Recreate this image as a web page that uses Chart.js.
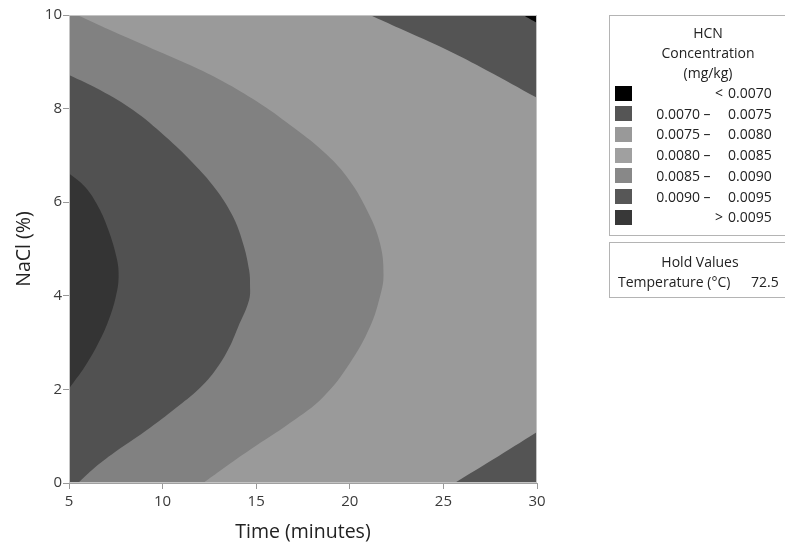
<!DOCTYPE html>
<html>
<head>
<meta charset="utf-8">
<script src="https://cdn.jsdelivr.net/npm/chart.js@4.4.1/dist/chart.umd.min.js"></script>
<style>
  body { margin: 0; background: #fff; font-family: "Open Sans", sans-serif; }
  #wrap { position: relative; width: 785px; height: 547px; overflow: hidden; }
  .box { position: absolute; border: 1px solid #b4b4b4; box-sizing: border-box; }
  .t { position: absolute; font-size: 14px; line-height: 18px; color: #222; white-space: nowrap; }
  .sw { position: absolute; width: 17px; height: 15px; }
</style>
</head>
<body>
<div id="wrap">
  <canvas id="chart"></canvas>
  <div id="legend"></div>
</div>
<script>
// axis ticks
const timeTicks = [5, 10, 15, 20, 25, 30];
const naclTicks = [0, 2, 4, 6, 8, 10];

// contour boundaries, [time, NaCl]
const curve95 = [[5, 6.62], [5.85, 6.33], [6.57, 5.9], [7.1, 5.41], [7.55, 4.8], [7.65, 4.4],
  [7.5, 3.98], [7.1, 3.46], [6.57, 2.99], [5.85, 2.49], [5, 2.02]];
const curve90 = [[5, 8.72], [6.66, 8.4], [8.42, 7.97], [10.13, 7.41], [11.62, 6.84], [12.8, 6.3],
  [13.71, 5.73], [14.29, 5.13], [14.62, 4.55], [14.67, 4.23], [14.62, 3.91], [14.03, 3.33],
  [13.49, 2.84], [12.75, 2.37], [11.89, 1.99], [10.93, 1.67], [9.33, 1.18], [7.46, 0.66],
  [6.23, 0.28], [5.48, 0]];
const curve85 = [[5.43, 10], [7.19, 9.68], [9.86, 9.21], [11.46, 8.93], [13.23, 8.58], [15.04, 8.15],
  [16.81, 7.65], [18.57, 7.09], [19.85, 6.54], [20.92, 5.83], [21.61, 5.13], [21.8, 4.44],
  [21.61, 3.98], [21.08, 3.34], [20.0, 2.56], [18.58, 1.84], [16.8, 1.28], [14.67, 0.71],
  [13.2, 0.3], [12.17, 0]];
const curve75Top = [[21.08, 10], [22.68, 9.71], [25.2, 9.25], [27.3, 8.82], [30, 8.23]];
const curve70Top = [[29.25, 10], [30, 9.83]];
const curve75Bottom = [[25.6, 0], [27.6, 0.49], [30, 1.09]];

// plot corners that close each filled band
const close90 = [[5, 0]];
const close85 = [[5, 0], [5, 10]];
const closeTopRight = [[30, 10]];
const closeBottomRight = [[30, 0]];

// legend
const legendFrom = ['', '0.0070', '0.0075', '0.0080', '0.0085', '0.0090', ''];
const legendSign = ['<', '–', '–', '–', '–', '–', '>'];
const legendTo = ['0.0070', '0.0075', '0.0080', '0.0085', '0.0090', '0.0095', '0.0095'];
const legendColors = ['#000000', '#555555', '#999999', '#a0a0a0', '#888888', '#575757', '#383838'];

const plotBg = '#9a9a9a';

// closed band outline; ends repeated so the spline meets the frame with a corner
function band(curve, corners) {
  corners = corners || [];
  const sharp = [curve[0], curve[curve.length - 1]].concat(corners);
  const res = [];
  curve.concat(corners).forEach(p => {
    res.push({ x: p[0], y: p[1] });
    if (sharp.includes(p)) res.push({ x: p[0], y: p[1] });
  });
  return res;
}
const region = (data, color, order) => ({
  data: data,
  backgroundColor: color,
  borderWidth: 0,
  pointRadius: 0,
  fill: 'shape',
  tension: 0.4,
  order: order
});

const areaPlugin = {
  id: 'area',
  beforeDatasetsDraw(chart) {
    const a = chart.chartArea, ctx = chart.ctx;
    ctx.save();
    ctx.fillStyle = plotBg;
    ctx.fillRect(a.left, a.top, a.right - a.left, a.bottom - a.top);
    ctx.restore();
  },
  afterDatasetsDraw(chart) {
    const a = chart.chartArea, ctx = chart.ctx;
    ctx.save();
    ctx.strokeStyle = '#c4c4c4';
    ctx.lineWidth = 1;
    ctx.strokeRect(a.left + 0.5, a.top + 0.5, a.right - a.left - 1, a.bottom - a.top - 1);
    ctx.restore();
  }
};

new Chart(document.getElementById('chart'), {
  type: 'line',
  data: {
    datasets: [
      region(band(curve95), '#343434', 1),
      region(band(curve90, close90), '#515151', 2),
      region(band(curve85, close85), '#818181', 3),
      region(band(curve70Top, closeTopRight), '#050505', 4),
      region(band(curve75Top, closeTopRight), '#545454', 5),
      region(band(curve75Bottom, closeBottomRight), '#545454', 6)
    ]
  },
  options: {
    responsive: true,
    maintainAspectRatio: false,
    animation: false,
    layout: { padding: { top: 15, right: 248, left: 0, bottom: 0 } },
    plugins: { legend: { display: false }, tooltip: { enabled: false } },
    scales: {
      x: {
        type: 'linear',
        min: 5, max: 30,
        afterBuildTicks: s => { s.ticks = timeTicks.map(v => ({ value: v })); },
        afterFit: s => { s.height = 64; },
        ticks: { font: { family: 'Open Sans', size: 15 }, color: '#3a3a3a', padding: 4 },
        grid: { drawOnChartArea: false, tickLength: 6, color: '#999' },
        border: { color: '#a0a0a0' },
        title: { display: true, text: 'Time (minutes)', font: { family: 'Open Sans', size: 19.5 },
                 color: '#222', padding: { top: 0, bottom: 3 } }
      },
      y: {
        min: 0, max: 10,
        afterBuildTicks: s => { s.ticks = naclTicks.map(v => ({ value: v })); },
        afterFit: s => { s.width = 69; },
        ticks: { font: { family: 'Open Sans', size: 15 }, color: '#3a3a3a', padding: 1 },
        grid: { drawOnChartArea: false, tickLength: 6, color: '#999' },
        border: { color: '#a0a0a0' },
        title: { display: true, text: 'NaCl (%)', font: { family: 'Open Sans', size: 19.5 },
                 color: '#222', padding: { top: 13, bottom: 0 } }
      }
    }
  },
  plugins: [areaPlugin]
});

// legend panels
const leg = document.getElementById('legend');
function add(cls, css, text) {
  const d = document.createElement('div');
  d.className = cls;
  Object.assign(d.style, css);
  if (text !== undefined) d.textContent = text;
  leg.appendChild(d);
  return d;
}
add('box', { left: '609px', top: '15px', width: '200px', height: '221px' });
add('box', { left: '609px', top: '242px', width: '200px', height: '56px' });
['HCN', 'Concentration', '(mg/kg)'].forEach((s, i) => {
  add('t', { left: '708px', top: (24 + i * 20) + 'px', transform: 'translateX(-50%)' }, s);
});
legendTo.forEach((to, i) => {
  const y = 93 + i * 20.7;
  add('sw', { left: '615px', top: (y - 7.5) + 'px', background: legendColors[i] });
  if (legendFrom[i]) add('t', { left: '700px', top: (y - 9) + 'px', transform: 'translateX(-100%)' }, legendFrom[i]);
  const signX = legendFrom[i] ? 707 : 719;
  add('t', { left: signX + 'px', top: (y - 9) + 'px', transform: 'translateX(-50%)' }, legendSign[i]);
  add('t', { left: '728px', top: (y - 9) + 'px' }, to);
});
add('t', { left: '700px', top: '253px', transform: 'translateX(-50%)' }, 'Hold Values');
add('t', { left: '618px', top: '273px' }, 'Temperature (°C)');
add('t', { left: '751px', top: '273px' }, '72.5');
</script>
</body>
</html>
